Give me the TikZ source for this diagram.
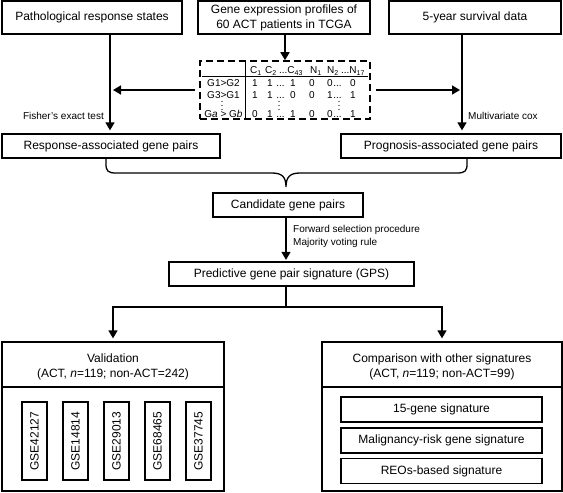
\documentclass[tikz,border=0pt]{standalone}
\usepackage{fontspec}
\setmainfont{Liberation Sans}
\usetikzlibrary{arrows.meta,calc}
\newcommand\tdots{...}
\begin{document}
\begin{tikzpicture}[x=1pt,y=-1pt,
  box/.style={draw,line width=1.3pt,inner sep=0pt,align=center,font=\fontsize{12}{15}\selectfont},
  txt/.style={inner sep=0pt,align=center,font=\fontsize{12}{15}\selectfont},
  lbl/.style={inner sep=0pt,font=\fontsize{10}{12}\selectfont},
  cell/.style={inner sep=0pt,anchor=base,font=\fontsize{10}{12}\selectfont},
  arr/.style={line width=1.6pt,-{Triangle[width=9pt,length=8pt]}},
  ln/.style={line width=1.6pt}]
\useasboundingbox (0,0) rectangle (563,493);
% top row
\node[box,minimum width=180pt,minimum height=33pt] (patho) at (92,17.5) {Pathological response states};
\node[box,minimum width=172pt,minimum height=33pt] (gene) at (284,17.5) {Gene expression profiles of\\60 ACT patients in TCGA};
\node[box,minimum width=172pt,minimum height=33pt] (surv) at (475,17.5) {5-year survival data};
% table
\node[draw,line width=1.6pt,dash pattern=on 7pt off 4pt,minimum width=170pt,minimum height=58pt,inner sep=0pt] (tbl) at (285,90) {};
\coordinate (hl) at (202,76);
\coordinate (hr) at (368,76);
\draw[line width=0.9pt] (hl) -- (hr);
\coordinate (vx) at (245,0);
\draw[line width=0.9pt] (tbl.north -| vx) -- (tbl.south -| vx);
% header
\node[cell] (h1) at (256,73.5) {C\textsubscript{1}};
\node[cell] (h2) at (271,73.5) {C\textsubscript{2}};
\node[cell] (h3) at (291,73.5) {\tdots C\textsubscript{43}};
\node[cell] (h4) at (316,73.5) {N\textsubscript{1}};
\node[cell] (h5) at (333,73.5) {N\textsubscript{2}};
\node[cell] (h6) at (353,73.5) {\tdots N\textsubscript{17}};
% row labels
\node[cell] (g1) at (223.5,86.5) {G1>G2};
\node[cell] (g2) at (223.5,98.5) {G3>G1};
\node[cell] (g4) at (223.5,117.5) {G\textit{a} > G\textit{b}};
% rows
\foreach \x/\a/\b/\c [count=\i] in {255/1/1/0,270/1/1/1,280.5/\tdots/\tdots/\tdots,293/1/0/1,312/0/0/0,330/0/1/0,337.5/\tdots/\tdots/\tdots,353/0/1/1}{
  \node[cell] (ra\i) at (\x,86.5) {\a};
  \node[cell] (rb\i) at (\x,98.5) {\b};
  \node[cell] (rc\i) at (\x,117.5) {\c};
}
% vertical dots
\foreach \x in {222,279,339}{
  \foreach \y in {101.5,105.5,109.5}{
    \fill (\x,\y) circle[radius=0.65pt];
  }
}
% second row
\node[box,minimum width=218pt,minimum height=24pt] (resp) at (111,146) {Response-associated gene pairs};
\node[box,minimum width=220pt,minimum height=24pt] (prog) at (451,146) {Prognosis-associated gene pairs};
% arrows top
\draw[arr] (gene.south -| tbl.north) -- (tbl.north);
\coordinate (lx) at (110,0);
\coordinate (rx) at (462,0);
\coordinate (lt) at (113,0);
\coordinate (rt) at (460,0);
\draw[arr,shorten >=3pt] (patho.south -| lx) -- (resp.north -| lx);
\draw[arr,shorten >=3pt] (surv.south -| rx) -- (prog.north -| rx);
\draw[arr,shorten <=4pt] (tbl.west) -- (tbl.west -| lt);
\draw[arr,shorten <=5pt] (tbl.east) -- (tbl.east -| rt);
\node[lbl,anchor=east] (fisher) at (104,116) {Fisher's exact test};
\node[lbl,anchor=west] (mcox) at (468,116) {Multivariate cox};
% brace
\coordinate (bl) at (106,0);
\coordinate (br) at (467,0);
\coordinate (btip) at (286,187);
\draw[line width=1.3pt] (resp.south -| bl) -- (106,164) .. controls (106,171) and (108,173) .. (116,173) -- (272,173) .. controls (282,173) and (286,177) .. (btip) .. controls (286,177) and (290,173) .. (300,173) -- (457,173) .. controls (465,173) and (467,171) .. (467,164) -- (prog.south -| br);
% candidate
\node[box,minimum width=150pt,minimum height=24pt] (cand) at (288,205) {Candidate gene pairs};
\node[box,minimum width=245pt,minimum height=24pt] (gps) at (291.5,274) {Predictive gene pair signature (GPS)};
\coordinate (cx) at (286,0);
\draw[arr,shorten >=1.5pt] (cand.south -| cx) -- (gps.north -| cx);
\node[lbl,anchor=west] (fwd) at (293,230) {Forward selection procedure};
\node[lbl,anchor=west] (maj) at (293,243) {Majority voting rule};
% bottom boxes
\node[box,minimum width=222pt,minimum height=149pt] (valid) at (113,416.5) {};
\node[box,minimum width=240pt,minimum height=149pt] (comp) at (442,416.5) {};
\coordinate (split) at (286,307);
\draw[ln] (gps.south -| cx) -- (split);
\draw[arr,shorten >=3pt] (split) -| (valid.north);
\draw[arr,shorten >=3pt] (split) -| (comp.north);
\node[txt] (vtitle) at (113,366.5) {Validation\\(ACT, \textit{n}=119; non-ACT=242)};
\node[txt] (ctitle) at (442,366.5) {Comparison with other signatures\\(ACT, \textit{n}=119; non-ACT=99)};
\coordinate (dv) at (0,387);
\draw[line width=1.3pt] (valid.west |- dv) -- (valid.east |- dv);
\draw[line width=1.3pt] (comp.west |- dv) -- (comp.east |- dv);
% GSE boxes
\foreach \x/\t [count=\i] in {34.5/GSE42127,75.5/GSE14814,116.5/GSE29013,157.5/GSE68465,198.5/GSE37745}{
  \node[box,rotate=90,minimum width=78pt,minimum height=25pt] (gse\i) at (\x,441) {\t};
}
% comparison signatures
\node[box,minimum width=201pt,minimum height=25pt] (s1) at (441.5,409.5) {15-gene signature};
\node[box,minimum width=201pt,minimum height=25pt] (s2) at (441.5,440.5) {Malignancy-risk gene signature};
\node[box,minimum width=201pt,minimum height=25pt] (s3) at (441.5,471) {REOs-based signature};
\end{tikzpicture}
\end{document}
